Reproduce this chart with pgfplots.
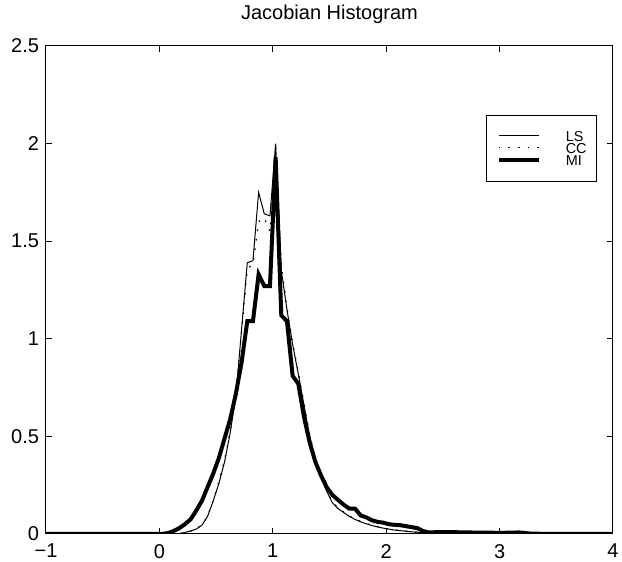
\documentclass[border=0pt]{standalone}
\usepackage{fontspec}
\setmainfont{Liberation Sans}
\usepackage{pgfplots}
\pgfplotsset{compat=1.18}

\begin{document}
\begin{tikzpicture}
\path[use as bounding box] (-23pt,-14pt) rectangle (288pt,267pt);
\begin{axis}[
  at={(0pt,0pt)}, anchor=south west,
  scale only axis, width=283.5pt, height=244pt,
  xmin=-1, xmax=4, ymin=0, ymax=2.5,
  xtick={-1,0,...,4}, xticklabels={−1,0,1,2,3,4},
  ytick={0,0.5,...,2.5}, yticklabels={0,0.5,1,1.5,2,2.5},
  tick align=inside, major tick length=2.8pt,
  axis line style={line width=0.5pt},
  tick style={line width=0.5pt, black},
  tick label style={font=\fontsize{10}{12}\selectfont},
  xticklabel style={yshift=-1.5pt},
  title={Jacobian Histogram},
  title style={font=\fontsize{10}{12}\selectfont, at={(0.5,1)}, anchor=south, yshift=1.5pt},
  legend style={at={(0.972,0.859)}, anchor=north east, draw=black, line width=0.5pt,
    font=\fontsize{7.2}{8}\selectfont, inner xsep=5pt, inner ysep=8pt, row sep=0.7pt,
    cells={anchor=west}, nodes={inner sep=0pt, text height=5.2pt, text depth=0pt},
    /tikz/every odd column/.append style={column sep=12.5pt}},
  legend image code/.code={\draw[#1,line cap=butt] (0pt,0.3pt) -- (20pt,0.3pt);},
]
% LS
\addplot[black, line width=0.5pt] coordinates {
(-1,0) (0.125,0) (0.175,0.002) (0.225,0.008) (0.275,0.015) (0.325,0.025)
(0.375,0.045) (0.425,0.09) (0.475,0.17) (0.525,0.26) (0.575,0.37) (0.625,0.52)
(0.675,0.71) (0.725,1.05) (0.775,1.39) (0.825,1.40) (0.875,1.75) (0.925,1.64)
(0.975,1.63) (1.025,2.00) (1.075,1.35) (1.125,1.15) (1.175,0.97) (1.225,0.82)
(1.275,0.66) (1.325,0.50) (1.375,0.38) (1.425,0.29) (1.475,0.22) (1.525,0.16)
(1.575,0.13) (1.625,0.11) (1.675,0.09) (1.725,0.075) (1.775,0.062) (1.825,0.052)
(1.875,0.043) (1.925,0.036) (1.975,0.03) (2.025,0.025) (2.075,0.02) (2.125,0.017)
(2.175,0.014) (2.225,0.011) (2.275,0.009) (2.325,0.007) (2.375,0.005) (2.475,0.004)
(2.625,0.003) (2.825,0.002) (3.025,0.001) (3.225,0) (4,0)};
\addlegendentry{LS}
% CC
\addplot[black, line width=0.6pt, dash pattern=on 0.8pt off 4pt] coordinates {
(-1,0) (0.125,0) (0.175,0.002) (0.225,0.007) (0.275,0.014) (0.325,0.026)
(0.375,0.047) (0.425,0.092) (0.475,0.17) (0.525,0.27) (0.575,0.38) (0.625,0.53)
(0.675,0.72) (0.725,1.04) (0.775,1.36) (0.825,1.38) (0.875,1.60) (0.925,1.62)
(0.975,1.55) (1.025,1.98) (1.075,1.38) (1.125,1.16) (1.175,0.98) (1.225,0.83)
(1.275,0.67) (1.325,0.51) (1.375,0.39) (1.425,0.30) (1.475,0.22) (1.525,0.165)
(1.575,0.135) (1.625,0.112) (1.675,0.092) (1.725,0.077) (1.775,0.064) (1.825,0.054)
(1.875,0.045) (1.925,0.038) (1.975,0.031) (2.025,0.026) (2.075,0.021) (2.125,0.018)
(2.175,0.015) (2.225,0.012) (2.275,0.01) (2.325,0.008) (2.375,0.006) (2.475,0.005)
(2.625,0.003) (2.825,0.002) (3.025,0.001) (3.225,0) (4,0)};
\addlegendentry{CC}
% MI
\addplot[black, line width=2pt] coordinates {
(-1,0) (0.025,0) (0.075,0.005) (0.125,0.015) (0.175,0.03) (0.225,0.05)
(0.275,0.075) (0.325,0.12) (0.375,0.17) (0.425,0.24) (0.475,0.31) (0.525,0.39)
(0.575,0.49) (0.625,0.59) (0.675,0.72) (0.725,0.88) (0.775,1.09) (0.825,1.09)
(0.875,1.33) (0.925,1.27) (0.975,1.27) (1.025,1.93) (1.075,1.12) (1.125,1.09)
(1.175,0.81) (1.225,0.77) (1.275,0.60) (1.325,0.47) (1.375,0.37) (1.425,0.30)
(1.475,0.24) (1.525,0.20) (1.575,0.175) (1.625,0.15) (1.675,0.13) (1.725,0.13)
(1.775,0.095) (1.825,0.085) (1.875,0.07) (1.925,0.062) (1.975,0.058) (2.025,0.05)
(2.075,0.047) (2.125,0.045) (2.175,0.04) (2.225,0.035) (2.275,0.03) (2.325,0.015)
(2.375,0.008) (2.475,0.01) (2.625,0.009) (2.825,0.007) (3.025,0.006) (3.175,0.008)
(3.275,0.002) (3.5,0) (4,0)};
\addlegendentry{MI}
\end{axis}
\end{tikzpicture}
\end{document}
